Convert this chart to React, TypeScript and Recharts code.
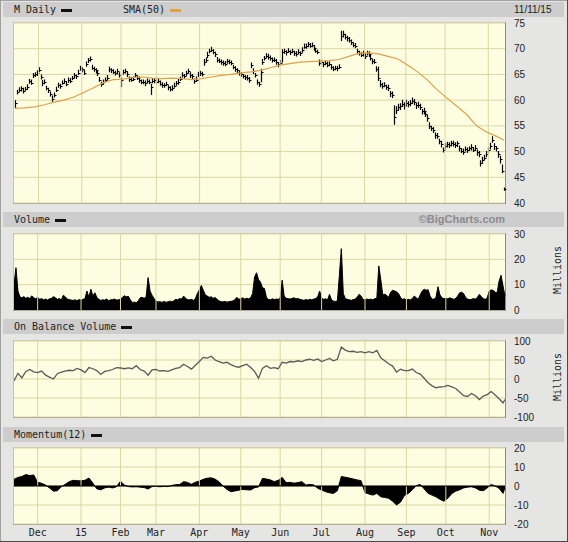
import React from 'react';
import { ComposedChart, Bar, Line, Area, XAxis, YAxis, CartesianGrid, ReferenceLine } from 'recharts';

// M daily, Nov 14 2014 .. Nov 11 2015 (one row per session)
const closes = [
  59.5, 61.6, 62.0, 62.3, 61.8, 62.2, 62.6, 63.7, 63.4, 64.8,
  65.0, 65.3, 65.8, 64.5, 63.3, 63.6, 62.3, 62.0, 61.2, 60.3,
  61.0, 62.0, 63.0, 62.7, 63.4, 63.7, 63.1, 64.0, 63.8, 64.3,
  64.8, 64.6, 65.3, 66.2, 66.0, 65.3, 67.0, 67.8, 68.0, 66.3,
  66.0, 65.8, 65.2, 64.0, 63.2, 63.5, 64.0, 64.3, 66.0, 65.8,
  65.5, 65.3, 65.6, 64.8, 63.9, 65.5, 65.6, 65.0, 64.2, 64.0,
  64.2, 64.8, 64.4, 64.0, 63.5, 63.6, 63.3, 63.8, 63.5, 62.6,
  63.8, 63.9, 63.5, 63.8, 63.2, 63.0, 62.9, 63.1, 62.5, 62.2,
  62.4, 62.8, 63.3, 63.6, 64.2, 64.8, 64.6, 65.3, 65.6, 64.8,
  64.6, 63.8, 64.0, 65.0, 65.3, 65.0, 67.4, 67.8, 68.8, 69.5,
  69.8, 69.4, 69.0, 67.8, 67.6, 67.5, 67.2, 67.0, 67.6, 67.4,
  67.3, 66.4, 66.0, 65.8, 65.2, 65.0, 64.6, 64.5, 64.3, 64.0,
  66.8, 65.6, 64.8, 63.6, 63.1, 65.5, 67.5, 68.2, 68.6, 68.4,
  68.2, 67.9, 67.8, 67.4, 67.0, 67.3, 69.3, 69.5, 69.3, 69.6,
  69.3, 69.5, 69.2, 69.0, 69.3, 69.1, 69.8, 70.4, 70.5, 70.9,
  70.6, 70.8, 70.2, 69.6, 69.4, 67.3, 67.4, 67.0, 67.2, 66.9,
  67.1, 66.5, 66.0, 66.3, 66.2, 66.5, 72.4, 72.8, 72.3, 72.0,
  71.7, 71.3, 70.8, 70.5, 69.5, 69.2, 68.8, 69.0, 68.6, 69.2,
  69.0, 68.2, 67.6, 67.5, 66.0, 64.3, 63.2, 62.8, 63.0, 62.6,
  62.4, 61.3, 61.0, 56.8, 58.0, 58.6, 58.8, 59.3, 59.0, 59.4,
  59.2, 59.5, 59.8, 59.6, 59.0, 59.1, 58.6, 57.8, 57.9, 57.3,
  56.5, 55.0, 54.5, 54.2, 53.2, 53.0, 52.0, 51.5, 50.3, 51.0,
  51.4, 51.2, 51.6, 51.5, 51.3, 51.6, 50.6, 50.2, 50.0, 50.5,
  50.3, 50.6, 50.8, 50.4, 50.7, 49.9, 49.5, 47.8, 48.3, 48.8,
  49.5, 50.4, 51.0, 52.2, 51.0, 50.6, 49.5, 48.5, 46.2, 42.7,
];

// high above close / low below close, in tenths of a dollar
const highTenths = [
  5, 4, 5, 4, 6, 4, 5, 4, 6, 5,  4, 5, 6, 5, 6, 4, 5, 4, 5, 6,
  5, 6, 4, 5, 4, 5, 6, 4, 5, 4,  5, 4, 6, 5, 4, 6, 5, 4, 5, 6,
  5, 4, 6, 5, 4, 5, 4, 6, 5, 4,  5, 4, 5, 6, 5, 4, 5, 6, 4, 5,
  4, 5, 4, 6, 5, 4, 5, 4, 5, 6,  5, 4, 5, 4, 6, 5, 4, 5, 4, 5,
  5, 6, 4, 5, 4, 6, 5, 4, 5, 6,  5, 4, 6, 5, 4, 5, 6, 5, 6, 5,
  6, 5, 4, 6, 5, 4, 5, 6, 4, 5,  4, 5, 6, 4, 5, 4, 5, 4, 6, 5,
  5, 6, 5, 4, 5, 6, 5, 4, 5, 6,  5, 4, 5, 6, 4, 5, 6, 5, 4, 5,
  4, 5, 4, 5, 6, 4, 5, 6, 5, 4,  5, 4, 5, 6, 4, 6, 5, 4, 5, 6,
  4, 5, 6, 4, 5, 5, 11, 7, 6, 5, 6, 5, 4, 6, 5, 4, 5, 6, 5, 4,
  5, 6, 4, 5, 6, 22, 7, 6, 5, 4, 6, 5, 7, 22, 8, 7, 6, 8, 6, 7,
  6, 5, 7, 6, 5, 6, 7, 5, 6, 5,  6, 7, 5, 6, 5, 6, 5, 6, 5, 7,
  5, 6, 5, 6, 5, 4, 6, 5, 6, 5,  5, 4, 6, 5, 6, 5, 6, 5, 7, 6,
  6, 5, 7, 8, 6, 5, 6, 7, 13, 3,
];
const lowTenths = [
  11, 5, 4, 6, 5, 4, 6, 5, 4, 5,  5, 6, 4, 5, 6, 5, 4, 6, 5, 6,
  5, 4, 6, 5, 4, 5, 4, 6, 5, 4,   6, 5, 4, 5, 6, 4, 5, 6, 5, 4,
  5, 6, 5, 4, 6, 5, 4, 5, 6, 5,   4, 5, 6, 4, 14, 5, 4, 5, 6, 4,
  5, 4, 5, 6, 4, 5, 6, 5, 4, 16,  5, 6, 4, 5, 4, 6, 5, 4, 6, 5,
  6, 4, 5, 6, 5, 4, 5, 6, 4, 5,   5, 6, 4, 5, 6, 4, 7, 5, 6, 4,
  4, 5, 6, 5, 4, 6, 5, 4, 5, 4,   5, 4, 5, 6, 4, 5, 4, 6, 5, 6,
  6, 5, 4, 6, 5, 20, 6, 5, 4, 5,  5, 6, 4, 5, 6, 4, 20, 5, 6, 4,
  5, 4, 6, 5, 4, 5, 6, 4, 5, 6,   4, 5, 6, 4, 5, 6, 5, 6, 4, 5,
  5, 6, 4, 5, 6, 4, 9, 6, 5, 6,   5, 6, 5, 4, 6, 5, 4, 5, 6, 5,
  6, 5, 6, 4, 5, 6, 7, 6, 5, 6,   6, 7, 6, 16, 7, 6, 7, 6, 8, 7,
  6, 7, 5, 6, 7, 6, 5, 6, 7, 6,   7, 6, 5, 6, 7, 5, 6, 7, 5, 6,
  6, 5, 6, 5, 6, 7, 6, 5, 6, 5,   6, 5, 6, 5, 6, 7, 6, 7, 6, 5,
  6, 7, 6, 5, 7, 6, 7, 8, 4, 3,
];

// volume, millions
const volumes = [
  10.0, 16.7, 7.5, 5.2, 4.8, 5.3, 4.6, 5.0, 4.5, 5.6,
  4.8, 4.4, 5.0, 4.2, 4.5, 4.0, 4.3, 3.9, 4.4, 4.6,
  5.3, 4.8, 4.2, 4.5, 4.0, 5.8, 5.2, 4.3, 4.1, 3.9,
  3.8, 4.0, 3.7, 4.1, 3.9, 4.2, 4.5, 7.5, 5.0, 8.2,
  5.5, 6.8, 5.0, 4.2, 3.8, 4.0, 3.9, 4.3, 3.7, 4.0,
  4.1, 4.3, 3.9, 4.0, 4.2, 5.0, 5.6, 5.2, 5.4, 4.0,
  3.0, 3.1, 2.9, 3.6, 4.8, 5.0, 4.6, 5.2, 12.8, 7.5,
  5.8, 4.6, 3.5, 3.2, 3.3, 3.0, 3.4, 3.1, 3.2, 3.5,
  3.3, 3.6, 4.2, 4.0, 4.5, 4.3, 5.5, 4.6, 4.1, 4.0,
  4.2, 3.8, 4.5, 6.5, 8.0, 9.7, 7.8, 6.0, 5.5, 5.0,
  5.2, 4.6, 4.9, 4.2, 3.6, 3.3, 3.2, 3.4, 3.1, 3.3,
  3.4, 3.6, 4.0, 5.0, 4.2, 4.5, 4.8, 4.3, 4.6, 4.4,
  4.8, 6.5, 13.0, 14.7, 12.0, 11.0, 8.8, 8.5, 5.0, 4.2,
  4.0, 4.4, 4.1, 4.3, 4.2, 4.8, 11.8, 5.5, 4.6, 4.5,
  4.3, 4.6, 4.8, 4.4, 4.5, 4.2, 4.0, 3.8, 4.1, 3.9,
  4.2, 4.0, 4.3, 4.5, 5.2, 7.5, 4.8, 4.2, 4.4, 4.0,
  6.2, 4.0, 3.5, 3.4, 3.6, 13.7, 24.2, 6.5, 4.5, 4.2,
  4.0, 3.8, 4.1, 4.3, 5.0, 6.2, 5.5, 4.2, 4.0, 4.3,
  4.1, 4.3, 4.0, 4.5, 4.6, 17.4, 12.0, 6.0, 6.2, 5.8,
  5.0, 7.0, 7.8, 7.5, 7.2, 6.5, 5.0, 4.2, 4.4, 4.0,
  4.2, 4.0, 4.5, 5.5, 4.8, 4.2, 6.0, 7.5, 8.2, 7.8,
  8.0, 5.5, 4.3, 4.2, 5.0, 9.2, 6.0, 4.8, 4.5, 4.6,
  4.4, 4.8, 4.5, 4.2, 4.6, 5.5, 6.8, 7.0, 6.5, 5.0,
  4.3, 4.1, 4.2, 4.5, 4.3, 5.0, 6.2, 5.2, 4.5, 4.2,
  4.8, 7.5, 7.9, 7.8, 7.0, 6.8, 11.4, 13.7, 9.5, 5.5,
];

// SMA(50), read every 5th session (last one = final session)
const sma50 = [
  58.4, 58.5, 58.7, 59.1, 59.6, 60.0, 60.6, 61.5, 62.4, 63.4,
  64.0, 64.1, 64.4, 64.5, 64.3, 64.2, 64.3, 64.2, 64.0, 64.2,
  64.5, 64.8, 65.0, 65.3, 65.5, 65.8, 66.3, 66.8, 67.1, 67.4,
  67.5, 67.6, 67.7, 67.9, 68.5, 69.1, 69.2, 69.0, 68.5, 68.0,
  66.8, 65.5, 63.9, 62.0, 60.4, 58.8, 57.2, 55.0, 53.8, 53.0,
  52.2,
];

// On Balance Volume (millions), read every 2nd session
const obv = [
  -5, 15, 3, 20, 25, 19, 17, 21, 10, 5,
  0, 14, 18, 21, 23, 22, 28, 24, 17, 30,
  27, 22, 12, 20, 22, 25, 30, 29, 27, 29,
  27, 35, 25, 21, 10, 24, 25, 21, 22, 20,
  24, 28, 30, 39, 33, 26, 36, 46, 57, 55,
  60, 50, 46, 42, 44, 38, 33, 31, 35, 39,
  30, 20, 2, 28, 35, 28, 30, 27, 44, 42,
  46, 45, 48, 46, 50, 52, 49, 53, 46, 50,
  54, 48, 52, 84, 76, 72, 73, 70, 72, 69,
  72, 69, 75, 56, 48, 40, 34, 18, 26, 22,
  22, 26, 17, 13, 2, -10, -18, -23, -21, -20,
  -17, -21, -25, -34, -44, -46, -38, -44, -54, -45,
  -41, -33, -42, -52, -63, -54,
];

// Momentum(12), read every 2nd session
const momentum = [
  3.5, 4.5, 5.0, 6.0, 5.5, 5.8, 2.0, 1.4, 0.5, -1.0,
  -2.7, -2.5, -0.4, 0.9, 2.3, 3.0, 2.8, 2.7, 3.0, 4.2,
  1.5, -1.5, -2.0, -1.0, -0.6, -1.0, -0.4, 2.5, 0.5, -0.3,
  -0.5, -0.4, -0.6, -0.8, -1.6, -0.3, -0.2, -0.4, -0.2, -0.3,
  0.3, 0.7, 0.8, 2.3, 1.9, 0.9, 2.0, 2.6, 3.5, 4.1,
  4.3, 3.6, 2.2, 0.0, -1.8, -3.0, -2.6, -2.2, -1.8, -2.0,
  -2.1, -0.9, -0.5, 4.0, 3.7, 3.2, 2.3, 3.0, 4.5, 1.8,
  1.9, 1.5, 1.8, 2.3, 0.5, 0.8, 0.6, -1.2, -2.1, -3.0,
  -3.6, -3.9, -2.5, 5.0, 4.6, 4.2, 3.7, 3.2, 2.8, -3.5,
  -4.2, -4.8, -3.9, -5.7, -6.0, -6.5, -8.0, -10.0, -8.5, -5.0,
  -3.9, -2.0, 0.2, 0.8, -1.5, -3.9, -4.8, -5.7, -7.0, -8.0,
  -6.5, -4.0, -2.7, -2.0, -1.0, -0.6, -0.4, -1.0, -2.2, -2.5,
  -1.0, 0.8, 0.0, -1.2, -3.9, -1.0,
];

const monthStarts = [12, 34, 54, 72, 94, 115, 135, 156, 178, 199, 219, 241];
const monthLabels = ['Dec', '15', 'Feb', 'Mar', 'Apr', 'May', 'Jun', 'Jul', 'Aug', 'Sep', 'Oct', 'Nov'];

const N = closes.length;
const rows: any[] = closes.map((c, i) => ({
  i,
  close: c,
  range: [c - lowTenths[i] / 10, c + highTenths[i] / 10],
  vol: volumes[i],
  sma: null,
  obv: null,
  mom: null,
}));
sma50.forEach((v, k) => (rows[Math.min(k * 5, N - 1)].sma = v));
obv.forEach((v, k) => (rows[Math.min(k * 2, N - 1)].obv = v));
momentum.forEach((v, k) => (rows[Math.min(k * 2, N - 1)].mom = v));

const W = 491;
const AXIS_W = 45;
const GRID = '#ddd6a2';
const PLOT_BG = '#fdfde1';
const MONO = '"DejaVu Sans Mono", monospace';
const TICK = { fontSize: 10, fill: '#222', fontFamily: '"Liberation Sans", Arial, sans-serif' };

const PriceBar = (props: any) => {
  const { x, y, width, height, payload } = props;
  if (x == null || !payload) return null;
  const top = Math.min(y, y + height);
  const h = Math.abs(height);
  const [lo, hi] = payload.range;
  const cx = Math.round(x + width / 2) + 0.5;
  const cy = Math.round(top + (h * (hi - payload.close)) / (hi - lo)) + 0.5;
  return (
    <g>
      <line x1={cx} x2={cx} y1={top} y2={top + h} stroke="#000" strokeWidth={1.2} />
      <line x1={cx} x2={cx + 2} y1={cy} y2={cy} stroke="#000" strokeWidth={1} />
    </g>
  );
};

const Frame = ({ top, h }: { top: number; h: number }) => (
  <div
    style={{
      position: 'absolute',
      left: 13,
      top: top - 1,
      width: W + 2,
      height: h + 2,
      boxSizing: 'border-box',
      background: PLOT_BG,
      border: '1px solid',
      borderColor: '#c4c4b4 #8a8a8a #8a8a8a #c4c4b4',
    }}
  />
);

const HeaderBar = ({ top }: { top: number }) => (
  <div style={{ position: 'absolute', left: 3, top, width: 561, height: 15, background: '#cdcdcd' }} />
);

const Label = ({ top, left, text, swatch }: { top: number; left: number; text: string; swatch: string }) => (
  <div
    style={{
      position: 'absolute',
      left,
      top,
      height: 15,
      lineHeight: '15px',
      fontSize: 10,
      fontFamily: MONO,
      color: '#222',
      whiteSpace: 'nowrap',
    }}
  >
    {text}
    <span
      style={{
        display: 'inline-block',
        width: 11,
        height: 3,
        background: swatch,
        marginLeft: 5,
        verticalAlign: 'middle',
      }}
    />
  </div>
);

const Millions = ({ cy }: { cy: number }) => (
  <div
    style={{
      position: 'absolute',
      left: 558 - 30,
      top: cy - 6,
      width: 60,
      height: 12,
      lineHeight: '12px',
      textAlign: 'center',
      fontSize: 10,
      fontFamily: MONO,
      color: '#222',
      transform: 'rotate(-90deg)',
    }}
  >
    Millions
  </div>
);

const monthLines = () =>
  monthStarts.map((m) => <ReferenceLine key={m} x={m} stroke={GRID} ifOverflow="extendDomain" />);

const yAxisProps = {
  orientation: 'right' as const,
  width: AXIS_W,
  axisLine: false,
  tickLine: false,
  tickSize: 0,
  tickMargin: 9,
  tick: TICK,
  interval: 0 as const,
  allowDataOverflow: true,
};

export default function App() {
  return (
    <div
      style={{
        position: 'absolute',
        left: 0,
        top: 0,
        width: 568,
        height: 542,
        background: '#e5e5e3',
        boxShadow: 'inset -1px -1px 0 #4a4a4a, inset 1px 1px 0 #a0a0a0',
        overflow: 'hidden',
      }}
    >
      <HeaderBar top={2} />
      <Label top={2} left={14} text="M Daily" swatch="#111" />
      <Label top={2} left={123} text="SMA(50)" swatch="#dfa14a" />
      <div style={{ position: 'absolute', left: 514, top: 2, height: 15, lineHeight: '15px', ...TICK, color: '#222' }}>
        11/11/15
      </div>

      <HeaderBar top={212} />
      <Label top={212} left={14} text="Volume" swatch="#111" />
      <div
        style={{
          position: 'absolute',
          right: 568 - 505,
          top: 212,
          height: 15,
          lineHeight: '15px',
          fontSize: 11,
          fontWeight: 'bold',
          fontFamily: '"Liberation Sans", Arial, sans-serif',
          color: '#8c8c8c',
        }}
      >
        ©BigCharts.com
      </div>

      <HeaderBar top={319} />
      <Label top={319} left={14} text="On Balance Volume" swatch="#111" />

      <HeaderBar top={427} />
      <Label top={427} left={14} text="Momentum(12)" swatch="#111" />

      <Frame top={23} h={180} />
      <Frame top={234} h={76} />
      <Frame top={341} h={76} />
      <Frame top={448} h={76} />

      <Millions cy={270} />
      <Millions cy={377} />

      {/* price */}
      <div style={{ position: 'absolute', left: 14, top: 23 - 8 }}>
        <ComposedChart width={W + AXIS_W} height={180 + 16} data={rows} margin={{ top: 8, right: 0, bottom: 8, left: 0 }} barCategoryGap={0}>
          <CartesianGrid vertical={false} stroke={GRID} />
          <XAxis dataKey="i" hide />
          <YAxis {...yAxisProps} domain={[40, 75]} ticks={[40, 45, 50, 55, 60, 65, 70, 75]} />
          {monthLines()}
          <Line dataKey="sma" stroke="#dfa14a" strokeWidth={1.2} dot={false} connectNulls isAnimationActive={false} />
          <Bar dataKey="range" shape={<PriceBar />} isAnimationActive={false} />
        </ComposedChart>
      </div>

      {/* volume */}
      <div style={{ position: 'absolute', left: 14, top: 234 - 8 }}>
        <ComposedChart width={W + AXIS_W} height={76 + 16} data={rows} margin={{ top: 8, right: 0, bottom: 8, left: 0 }}>
          <CartesianGrid vertical={false} stroke={GRID} />
          <XAxis dataKey="i" hide />
          <YAxis {...yAxisProps} domain={[0, 30]} ticks={[0, 10, 20, 30]} />
          {monthLines()}
          <Area dataKey="vol" type="linear" stroke="#000" strokeWidth={1} fill="#000" fillOpacity={1} baseValue={0} dot={false} isAnimationActive={false} />
        </ComposedChart>
      </div>

      {/* on balance volume */}
      <div style={{ position: 'absolute', left: 14, top: 341 - 8 }}>
        <ComposedChart width={W + AXIS_W} height={76 + 16} data={rows} margin={{ top: 8, right: 0, bottom: 8, left: 0 }}>
          <CartesianGrid vertical={false} stroke={GRID} />
          <XAxis dataKey="i" hide />
          <YAxis {...yAxisProps} domain={[-100, 100]} ticks={[-100, -50, 0, 50, 100]} />
          {monthLines()}
          <Line dataKey="obv" type="linear" stroke="#5a5a5a" strokeWidth={1.3} dot={false} connectNulls isAnimationActive={false} />
        </ComposedChart>
      </div>

      {/* momentum */}
      <div style={{ position: 'absolute', left: 14, top: 448 - 8 }}>
        <ComposedChart width={W + AXIS_W} height={76 + 8 + 20} data={rows} margin={{ top: 8, right: 0, bottom: 0, left: 0 }}>
          <CartesianGrid vertical={false} stroke={GRID} />
          <XAxis
            dataKey="i"
            ticks={monthStarts}
            interval={0}
            tickFormatter={(v: number) => monthLabels[monthStarts.indexOf(v)]}
            axisLine={false}
            tickLine={false}
            tickSize={0}
            tickMargin={5}
            height={20}
            tick={{ fontSize: 10, fill: '#222', fontFamily: MONO }}
          />
          <YAxis {...yAxisProps} domain={[-20, 20]} ticks={[-20, -10, 0, 10, 20]} />
          {monthLines()}
          <Area dataKey="mom" type="linear" stroke="#000" strokeWidth={1} fill="#000" fillOpacity={1} baseValue={0} connectNulls dot={false} isAnimationActive={false} />
          <ReferenceLine y={0} stroke="#000" />
        </ComposedChart>
      </div>
    </div>
  );
}
